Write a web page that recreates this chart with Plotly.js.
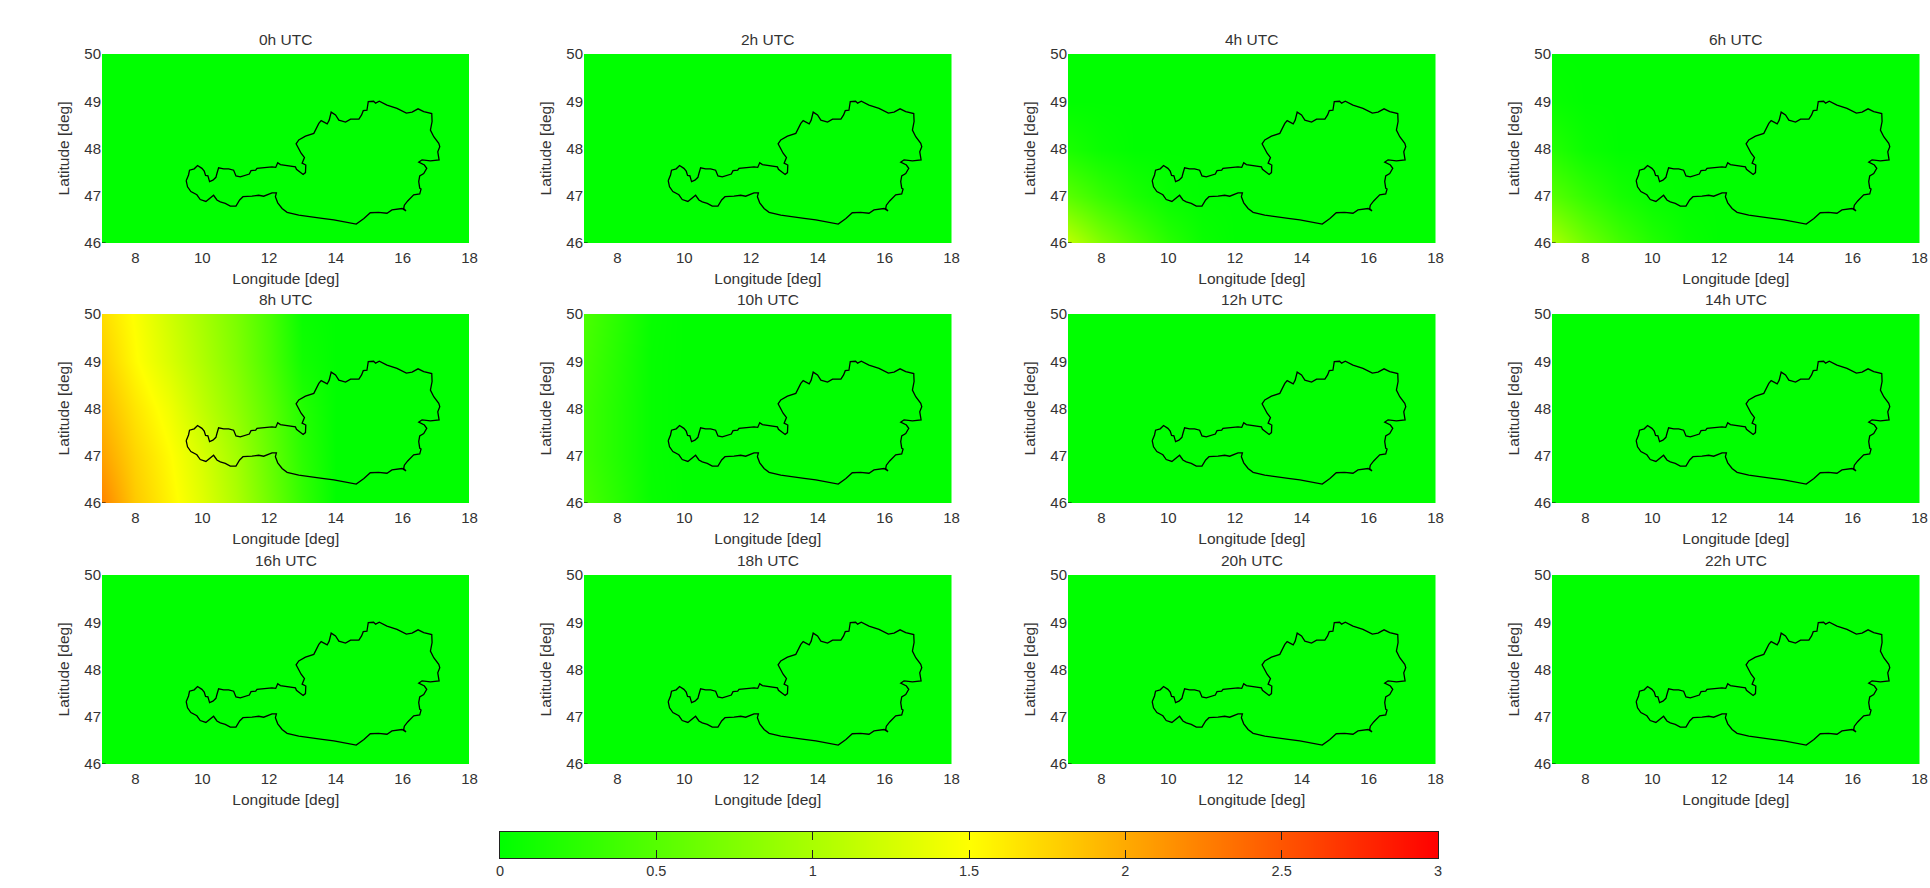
<!DOCTYPE html>
<html><head><meta charset="utf-8">
<script src="https://cdn.plot.ly/plotly-3.0.1.min.js"></script>
<style>html,body{margin:0;padding:0;background:#fff}#c{width:1930px;height:888px}</style>
</head><body><div id="c"></div>
<script>
const hours = ['0h UTC','2h UTC','4h UTC','6h UTC','8h UTC','10h UTC','12h UTC','14h UTC','16h UTC','18h UTC','20h UTC','22h UTC'];
const gridLon = [7,8,9,10,11,12,13,14,18];
const gridLat = [46,47,48,49,50];
const calm = [
 [0,0,0,0,0,0,0,0,0],
 [0,0,0,0,0,0,0,0,0],
 [0,0,0,0,0,0,0,0,0],
 [0,0,0,0,0,0,0,0,0],
 [0,0,0,0,0,0,0,0,0]];
const z4h = [
 [1.12,0.76,0.48,0.24,0.06,0,0,0,0],
 [0.52,0.32,0.15,0.03,0,0,0,0,0],
 [0.15,0.05,0,0,0,0,0,0,0],
 [0,0,0,0,0,0,0,0,0],
 [0,0,0,0,0,0,0,0,0]];
const z6h = [
 [1.00,0.66,0.40,0.20,0.05,0,0,0,0],
 [0.50,0.30,0.13,0.03,0,0,0,0,0],
 [0.20,0.06,0,0,0,0,0,0,0],
 [0.04,0,0,0,0,0,0,0,0],
 [0,0,0,0,0,0,0,0,0]];
const z8h = [
 [2.22,1.82,1.57,1.32,1.02,0.66,0.30,0,0],
 [2.05,1.75,1.52,1.26,0.96,0.60,0.25,0,0],
 [1.92,1.65,1.42,1.13,0.85,0.54,0.20,0,0],
 [1.80,1.52,1.28,1.03,0.76,0.45,0.10,0,0],
 [1.70,1.48,1.22,0.98,0.72,0.42,0.05,0,0]];
const z10h = [
 [0.42,0.24,0.04,0,0,0,0,0,0],
 [0.36,0.20,0.03,0,0,0,0,0,0],
 [0.36,0.20,0.03,0,0,0,0,0,0],
 [0.40,0.22,0.03,0,0,0,0,0,0],
 [0.44,0.25,0.04,0,0,0,0,0,0]];
const panelZ = [calm,calm,z4h,z6h,z8h,z10h,calm,calm,calm,calm,calm,calm];
const borderLon = [9.52,9.59,9.62,9.76,9.86,9.99,10.06,10.10,10.17,10.22,10.32,10.41,10.44,10.49,10.64,10.79,10.94,11.01,11.14,11.26,11.41,11.46,11.60,11.64,11.89,12.09,12.20,12.26,12.34,12.54,12.79,12.82,12.94,13.02,13.09,13.10,12.99,13.06,12.96,12.89,12.81,12.89,13.09,13.34,13.42,13.49,13.56,13.74,13.80,13.86,13.99,14.09,14.29,14.44,14.69,14.77,14.82,14.93,14.97,15.13,15.19,15.30,15.53,15.83,16.11,16.28,16.46,16.63,16.87,16.88,16.83,16.93,17.08,17.11,17.05,17.09,16.83,16.58,16.48,16.65,16.72,16.63,16.51,16.48,16.51,16.55,16.51,16.33,16.15,16.05,16.03,16.10,15.98,15.68,15.53,15.28,15.03,14.84,14.61,14.34,13.94,13.59,13.24,12.89,12.54,12.39,12.26,12.19,12.22,12.09,11.84,11.69,11.49,11.22,11.12,11.01,10.84,10.69,10.54,10.44,10.34,10.22,10.11,9.94,9.84,9.66,9.56,9.52];
const borderLat = [47.32,47.44,47.54,47.57,47.64,47.58,47.52,47.43,47.42,47.30,47.33,47.39,47.47,47.59,47.57,47.57,47.54,47.42,47.40,47.43,47.46,47.53,47.54,47.58,47.60,47.61,47.60,47.70,47.66,47.64,47.61,47.56,47.50,47.45,47.49,47.65,47.69,47.81,47.90,47.98,48.10,48.18,48.26,48.32,48.43,48.53,48.59,48.52,48.60,48.77,48.71,48.60,48.56,48.62,48.62,48.71,48.80,48.81,48.99,49.00,48.96,49.00,48.92,48.85,48.75,48.77,48.84,48.78,48.74,48.57,48.39,48.25,48.11,48.04,47.93,47.76,47.74,47.76,47.71,47.65,47.58,47.47,47.42,47.30,47.16,47.14,47.04,47.02,46.89,46.80,46.73,46.68,46.73,46.70,46.63,46.65,46.64,46.52,46.40,46.44,46.49,46.52,46.56,46.59,46.65,46.73,46.85,46.98,47.06,47.06,46.99,47.01,46.99,46.98,46.91,46.78,46.78,46.84,46.87,46.91,47.01,46.95,46.88,46.92,47.02,47.09,47.19,47.32];
const barTicks = [0,0.5,1,1.5,2,2.5,3];
const barZ = [[0,1.5,3],[0,1.5,3]];
const barX = [0,1.5,3];
const barY = [0,1];
const xTicks = [8,10,12,14,16,18];
const yTicks = [46,47,48,49,50];

const W=1930,H=888;
const colLeft=[102,584,1068,1552], panelW=367.5;
const rowTop=[54,314,575], panelH=189;
const scale=[[0,'#00ff00'],[0.5,'#ffff00'],[1,'#ff0000']];
const txt='#333333', FONT='"Liberation Sans", Arial, sans-serif';
const traces=[], annotations=[], shapes=[];
const layout={width:W,height:H,margin:{l:0,r:0,t:0,b:0},paper_bgcolor:'#fff',plot_bgcolor:'#fff',showlegend:false,font:{family:FONT,size:15,color:txt}};
hours.forEach((h,i)=>{
  const n=i+1, sx=n===1?'':n, c=i%4, r=Math.floor(i/4);
  layout['xaxis'+sx]={domain:[colLeft[c]/W,(colLeft[c]+panelW)/W],range:[7,18],anchor:'y'+sx,tickmode:'array',tickvals:xTicks,ticks:'',ticklabelstandoff:4,showgrid:false,zeroline:false,showline:false,
    tickfont:{size:15,color:txt},title:{text:'Longitude [deg]',font:{size:15.5,color:txt},standoff:8},automargin:false};
  layout['yaxis'+sx]={domain:[1-(rowTop[r]+panelH)/H,1-rowTop[r]/H],range:[46,50],anchor:'x'+sx,tickmode:'array',tickvals:yTicks,ticks:'',showgrid:false,zeroline:false,showline:false,
    tickfont:{size:15,color:txt},title:{text:'Latitude [deg]',font:{size:15.5,color:txt},standoff:10},automargin:false};
  traces.push({type:'heatmap',x:gridLon,y:gridLat,z:panelZ[i],zmin:0,zmax:3,zsmooth:'best',colorscale:scale,showscale:false,xaxis:'x'+sx,yaxis:'y'+sx,hoverinfo:'skip'});
  traces.push({type:'scatter',mode:'lines',x:borderLon,y:borderLat,line:{color:'#000',width:1.3},xaxis:'x'+sx,yaxis:'y'+sx,hoverinfo:'skip'});
  annotations.push({text:h,xref:'x'+sx+' domain',yref:'y'+sx+' domain',x:0.5,y:1,yanchor:'bottom',xanchor:'center',yshift:4,showarrow:false,font:{size:15.5,color:txt}});
  shapes.push({type:'line',xref:'x'+sx,yref:'y'+sx,x0:7,x1:7.11,y0:46,y1:46,line:{color:'#000',width:1},layer:'above'});
});
const nb=13;
layout['xaxis'+nb]={domain:[500/W,1438/W],range:[0,3],anchor:'y'+nb,tickmode:'array',tickvals:barTicks,ticks:'inside',ticklen:8,tickwidth:1,tickcolor:'#222',mirror:'ticks',showline:true,linecolor:'#222',linewidth:1,showgrid:false,zeroline:false,tickfont:{size:14.5,color:txt}};
layout['yaxis'+nb]={domain:[1-858/H,1-832/H],range:[0,1],anchor:'x'+nb,showticklabels:false,ticks:'',showline:true,mirror:true,linecolor:'#222',linewidth:1,showgrid:false,zeroline:false};
traces.push({type:'heatmap',x:barX,y:barY,z:barZ,zmin:0,zmax:3,zsmooth:'best',colorscale:scale,showscale:false,xaxis:'x'+nb,yaxis:'y'+nb,hoverinfo:'skip'});
layout.annotations=annotations;
layout.shapes=shapes;
Plotly.newPlot('c',traces,layout,{displayModeBar:false,staticPlot:true});
</script></body></html>
